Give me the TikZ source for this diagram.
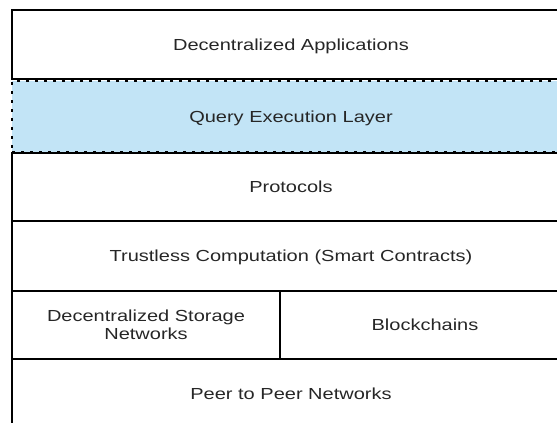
\documentclass[tikz,border=0pt]{standalone}
\usepackage{fontspec}
\newfontfamily\layerfont[FakeStretch=1.25]{Liberation Sans}
\definecolor{querybg}{RGB}{194,228,246}

\begin{document}
\begin{tikzpicture}[x=1pt,y=-1pt,
  layer/.style={draw, line width=1.8pt, inner sep=0pt, text=black!85,
    font=\layerfont\fontsize{16}{18}\selectfont,
    text height=13.5pt, text depth=2pt, minimum width=558pt},
  querybox/.style={layer, fill=querybg, dash pattern=on 3pt off 6pt}]
  \useasboundingbox (0,0) rectangle (557,423);
  \node[layer, minimum height=69pt] (apps) at (291,44.5) {Decentralized Applications};
  \node[querybox, minimum height=71pt] (query) at (291,116.5) {Query Execution Layer};
  \node[layer, minimum height=68pt] (proto) at (291,187) {Protocols};
  \node[layer, minimum height=70pt] (trust) at (291,256) {Trustless Computation (Smart Contracts)};
  \node[layer, minimum height=68pt, minimum width=268pt, align=center,
    text height=, text depth=] (store) at (146,325) {Decentralized Storage\\Networks};
  \node[layer, minimum height=68pt, minimum width=290pt] (chain) at (425,325) {Blockchains};
  \node[layer, minimum height=70pt] (peer) at (291,394) {Peer to Peer Networks};
\end{tikzpicture}
\end{document}
